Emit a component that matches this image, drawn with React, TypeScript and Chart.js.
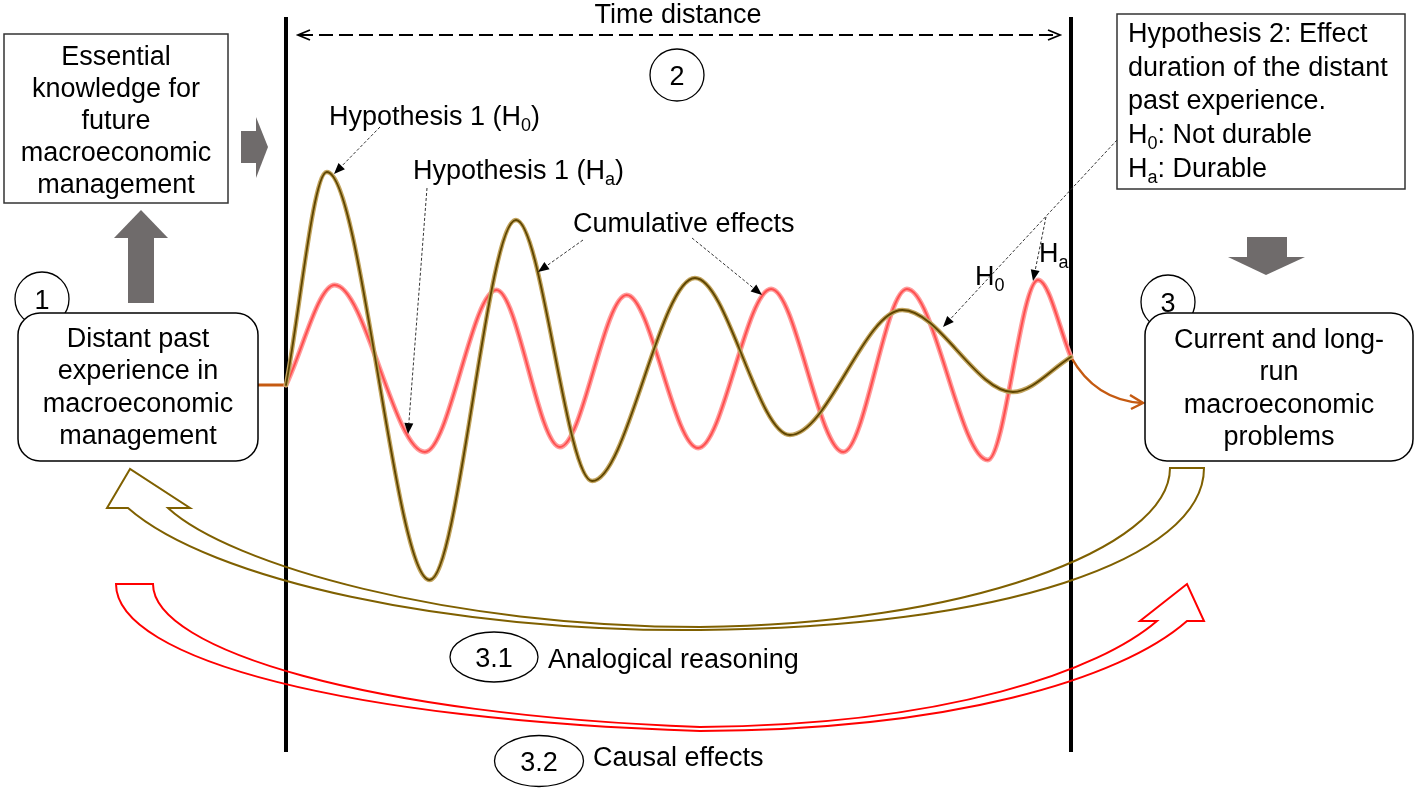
import React, { useEffect, useRef } from "react";
import { Chart, registerables } from "chart.js";

Chart.register(...registerables);

const W = 1418;
const H = 791;

// Time runs from 0 (distant past, left bar) to 100 (present, right bar)
const h0Time = [0, 5.2, 18.3, 29.3, 39.0, 52.1, 64.2, 78.5, 92.6, 100];
const h0Effect = [0, 106.5, -97.5, 82.5, -48, 53.5, -25, 37.5, -3.5, 14];
const haTime = [0, 6.2, 17.7, 26.8, 34.9, 43.4, 52.5, 61.8, 71.0, 79.1, 89.4, 95.8, 100];
const haEffect = [0, 50, -33.5, 47.5, -31, 45, -31.5, 48, -33.5, 48, -37.5, 52.5, 14];
const barTimes = [0, 100];

const X_MIN = -36.433;
const X_MAX = 144.204;
const Y_MIN = -203;
const Y_MAX = 192.5;

const FS = 27;
const FONT = '"Liberation Sans", Arial, Helvetica, sans-serif';
const f = (s: number) => `${s}px ${FONT}`;

type Part = { t: string; sub?: boolean };

function rich(ctx: CanvasRenderingContext2D, x: number, y: number, parts: Part[], align: "left" | "center", size = FS) {
  const subSize = Math.round(size * 0.68);
  let total = 0;
  const widths = parts.map((p) => {
    ctx.font = f(p.sub ? subSize : size);
    const w = ctx.measureText(p.t).width;
    total += w;
    return w;
  });
  let cx = align === "center" ? x - total / 2 : x;
  ctx.textAlign = "left";
  ctx.textBaseline = "alphabetic";
  parts.forEach((p, i) => {
    ctx.font = f(p.sub ? subSize : size);
    ctx.fillText(p.t, cx, p.sub ? y + 6 : y);
    cx += widths[i];
  });
}

function lines(ctx: CanvasRenderingContext2D, x: number, y0: number, dy: number, arr: string[]) {
  ctx.font = f(FS);
  ctx.textAlign = "center";
  ctx.textBaseline = "alphabetic";
  ctx.fillStyle = "#000";
  arr.forEach((s, i) => ctx.fillText(s, x, y0 + dy * i));
}

function roundRect(ctx: CanvasRenderingContext2D, x: number, y: number, w: number, h: number, r: number) {
  ctx.beginPath();
  ctx.moveTo(x + r, y);
  ctx.arcTo(x + w, y, x + w, y + h, r);
  ctx.arcTo(x + w, y + h, x, y + h, r);
  ctx.arcTo(x, y + h, x, y, r);
  ctx.arcTo(x, y, x + w, y, r);
  ctx.closePath();
}

function dottedArrow(ctx: CanvasRenderingContext2D, x1: number, y1: number, x2: number, y2: number) {
  const a = Math.atan2(y2 - y1, x2 - x1);
  const hl = 11;
  const hw = 4.5;
  const bx = x2 - hl * Math.cos(a);
  const by = y2 - hl * Math.sin(a);
  ctx.save();
  ctx.strokeStyle = "#333";
  ctx.lineWidth = 1;
  ctx.setLineDash([3, 2]);
  ctx.beginPath();
  ctx.moveTo(x1, y1);
  ctx.lineTo(bx, by);
  ctx.stroke();
  ctx.setLineDash([]);
  ctx.fillStyle = "#000";
  ctx.beginPath();
  ctx.moveTo(x2, y2);
  ctx.lineTo(bx - hw * Math.sin(a), by + hw * Math.cos(a));
  ctx.lineTo(bx + hw * Math.sin(a), by - hw * Math.cos(a));
  ctx.closePath();
  ctx.fill();
  ctx.restore();
}

function circle(ctx: CanvasRenderingContext2D, x: number, y: number, rx: number, ry: number, label: string) {
  ctx.beginPath();
  ctx.ellipse(x, y, rx, ry, 0, 0, Math.PI * 2);
  ctx.fillStyle = "#fff";
  ctx.fill();
  ctx.strokeStyle = "#000";
  ctx.lineWidth = 1.3;
  ctx.stroke();
  ctx.fillStyle = "#000";
  ctx.font = f(FS);
  ctx.textAlign = "center";
  ctx.textBaseline = "alphabetic";
  ctx.fillText(label, x, y + 10);
}

function poly(ctx: CanvasRenderingContext2D, pts: number[][], fill: string) {
  ctx.beginPath();
  pts.forEach((p, i) => (i ? ctx.lineTo(p[0], p[1]) : ctx.moveTo(p[0], p[1])));
  ctx.closePath();
  ctx.fillStyle = fill;
  ctx.fill();
}

const diagramPlugin = {
  id: "diagram",
  beforeDatasetsDraw(chart: any) {
    const ctx: CanvasRenderingContext2D = chart.ctx;
    const xs = chart.scales.x;
    ctx.save();
    ctx.strokeStyle = "#000";
    ctx.lineWidth = 4;
    barTimes.forEach((t) => {
      const px = xs.getPixelForValue(t);
      ctx.beginPath();
      ctx.moveTo(px, 17);
      ctx.lineTo(px, 752);
      ctx.stroke();
    });
    // orange connectors
    const y0 = chart.scales.y.getPixelForValue(0);
    const xl = xs.getPixelForValue(0);
    const xr = xs.getPixelForValue(100);
    const yEnd = chart.scales.y.getPixelForValue(h0Effect[h0Effect.length - 1]);
    ctx.strokeStyle = "#c55a11";
    ctx.lineWidth = 3;
    ctx.beginPath();
    ctx.moveTo(258, y0);
    ctx.lineTo(xl, y0);
    ctx.stroke();
    ctx.lineWidth = 2.5;
    ctx.beginPath();
    ctx.moveTo(xr, yEnd);
    ctx.quadraticCurveTo(1095, 400, 1142, 403);
    ctx.stroke();
    ctx.beginPath();
    ctx.moveTo(1130, 395);
    ctx.lineTo(1143, 403);
    ctx.lineTo(1131, 409);
    ctx.stroke();
    ctx.restore();
  },
  afterDatasetsDraw(chart: any) {
    const ctx: CanvasRenderingContext2D = chart.ctx;
    ctx.save();

    // Time distance arrow
    ctx.strokeStyle = "#000";
    ctx.lineWidth = 1.8;
    ctx.setLineDash([14, 6]);
    ctx.beginPath();
    ctx.moveTo(299, 35);
    ctx.lineTo(1058, 35);
    ctx.stroke();
    ctx.setLineDash([]);
    ctx.beginPath();
    ctx.moveTo(310, 30);
    ctx.lineTo(298, 35);
    ctx.lineTo(310, 40);
    ctx.moveTo(1048, 30);
    ctx.lineTo(1060, 35);
    ctx.lineTo(1048, 40);
    ctx.stroke();
    ctx.fillStyle = "#000";
    ctx.font = f(FS);
    ctx.textAlign = "center";
    ctx.fillText("Time distance", 678, 23);

    // numbered circles (behind boxes)
    circle(ctx, 42, 299, 27, 27, "1");
    circle(ctx, 677, 75, 27, 26, "2");
    circle(ctx, 1168, 302, 27, 27, "3");

    // Essential knowledge box
    ctx.fillStyle = "#fff";
    ctx.fillRect(4, 34, 224, 169);
    ctx.strokeStyle = "#333";
    ctx.lineWidth = 1.5;
    ctx.strokeRect(4, 34, 224, 169);
    lines(ctx, 116, 65, 32, ["Essential", "knowledge for", "future", "macroeconomic", "management"]);

    // Box 1
    roundRect(ctx, 18, 313, 240, 148, 22);
    ctx.fillStyle = "#fff";
    ctx.fill();
    ctx.strokeStyle = "#000";
    ctx.lineWidth = 1.5;
    ctx.stroke();
    lines(ctx, 138, 347, 32.3, ["Distant past", "experience in", "macroeconomic", "management"]);

    // Box 3
    roundRect(ctx, 1145, 313, 268, 148, 22);
    ctx.fillStyle = "#fff";
    ctx.fill();
    ctx.stroke();
    lines(ctx, 1279, 348, 32.4, ["Current and long-", "run", "macroeconomic", "problems"]);

    // Hypothesis 2 box
    ctx.fillStyle = "#fff";
    ctx.fillRect(1117, 14, 288, 175);
    ctx.strokeStyle = "#333";
    ctx.lineWidth = 1.5;
    ctx.strokeRect(1117, 14, 288, 175);
    ctx.fillStyle = "#000";
    rich(ctx, 1128, 42, [{ t: "Hypothesis 2: Effect" }], "left");
    rich(ctx, 1128, 75.5, [{ t: "duration of the distant" }], "left");
    rich(ctx, 1128, 109, [{ t: "past experience." }], "left");
    rich(ctx, 1128, 143, [{ t: "H" }, { t: "0", sub: true }, { t: ": Not durable" }], "left");
    rich(ctx, 1128, 176.5, [{ t: "H" }, { t: "a", sub: true }, { t: ": Durable" }], "left");

    // gray block arrows
    const gray = "#6f6b6b";
    poly(ctx, [[128, 237], [154, 237], [154, 303], [128, 303]], gray);
    poly(ctx, [[114, 238], [168, 238], [141, 210]], gray);
    poly(ctx, [[241, 131], [256, 131], [256, 163], [241, 163]], gray);
    poly(ctx, [[256, 117], [268, 147], [256, 178]], gray);
    poly(ctx, [[1247, 237], [1287, 237], [1287, 258], [1247, 258]], gray);
    poly(ctx, [[1228, 257], [1305, 257], [1266, 275]], gray);

    // labels
    ctx.fillStyle = "#000";
    rich(ctx, 329, 125, [{ t: "Hypothesis 1 (H" }, { t: "0", sub: true }, { t: ")" }], "left");
    rich(ctx, 413, 179, [{ t: "Hypothesis 1 (H" }, { t: "a", sub: true }, { t: ")" }], "left");
    rich(ctx, 573, 232, [{ t: "Cumulative effects" }], "left");
    rich(ctx, 975, 285, [{ t: "H" }, { t: "0", sub: true }], "left");
    rich(ctx, 1039, 262, [{ t: "H" }, { t: "a", sub: true }], "left");

    dottedArrow(ctx, 380, 127, 334, 174);
    dottedArrow(ctx, 427, 188, 408, 434);
    dottedArrow(ctx, 583, 240, 538, 272);
    dottedArrow(ctx, 692, 238, 762, 295);
    dottedArrow(ctx, 1117, 140, 943, 327);
    dottedArrow(ctx, 1046, 217, 1033, 281);

    // Olive curved block arrow (analogical reasoning)
    ctx.lineWidth = 2;
    ctx.strokeStyle = "#7f6000";
    ctx.beginPath();
    ctx.moveTo(130, 469);
    ctx.lineTo(107, 508);
    ctx.lineTo(128, 508);
    ctx.bezierCurveTo(210, 580, 450, 632, 700, 630);
    ctx.bezierCurveTo(1000, 628, 1204, 560, 1204, 468);
    ctx.lineTo(1170, 468);
    ctx.bezierCurveTo(1170, 550, 960, 625, 700, 627);
    ctx.bezierCurveTo(450, 627, 230, 565, 168, 508);
    ctx.lineTo(190, 508);
    ctx.closePath();
    ctx.stroke();

    // Red curved block arrow (causal effects)
    ctx.strokeStyle = "#ff0000";
    ctx.beginPath();
    ctx.moveTo(116, 584);
    ctx.bezierCurveTo(116, 660, 350, 720, 700, 731);
    ctx.bezierCurveTo(950, 730, 1120, 680, 1187, 621);
    ctx.lineTo(1204, 621);
    ctx.lineTo(1187, 584);
    ctx.lineTo(1140, 621);
    ctx.lineTo(1157, 621);
    ctx.bezierCurveTo(1100, 670, 950, 725, 700, 727);
    ctx.bezierCurveTo(370, 715, 153, 650, 153, 584);
    ctx.closePath();
    ctx.stroke();

    // ellipses and captions
    circle(ctx, 494, 657, 44, 25, "3.1");
    circle(ctx, 539, 761, 44.5, 25.5, "3.2");
    ctx.fillStyle = "#000";
    rich(ctx, 548, 668, [{ t: "Analogical reasoning" }], "left");
    rich(ctx, 593, 766, [{ t: "Causal effects" }], "left");

    ctx.restore();
  },
};

function pts(xs: number[], ys: number[]) {
  return xs.map((x, i) => ({ x, y: ys[i] }));
}

export default function App() {
  const ref = useRef<HTMLCanvasElement | null>(null);
  useEffect(() => {
    if (!ref.current) return;
    const h0 = pts(h0Time, h0Effect);
    const ha = pts(haTime, haEffect);
    const common = {
      pointRadius: 0,
      fill: false,
      cubicInterpolationMode: "monotone" as const,
      borderCapStyle: "round" as const,
      borderJoinStyle: "round" as const,
    };
    const chart = new Chart(ref.current, {
      type: "line",
      data: {
        datasets: [
          { label: "Hypothesis 1 (H0) core", data: h0, borderColor: "#5e4500", borderWidth: 1.8, ...common },
          { label: "Hypothesis 1 (H0)", data: h0, borderColor: "#c2a45e", borderWidth: 4.5, ...common },
          { label: "Hypothesis 1 (Ha) core", data: ha, borderColor: "#ff4f4f", borderWidth: 2, ...common },
          { label: "Hypothesis 1 (Ha)", data: ha, borderColor: "#ff9c9c", borderWidth: 5, ...common },
        ],
      },
      options: {
        responsive: false,
        animation: false,
        devicePixelRatio: 1,
        layout: { padding: 0 },
        events: [],
        scales: {
          x: { type: "linear", display: false, min: X_MIN, max: X_MAX },
          y: { type: "linear", display: false, min: Y_MIN, max: Y_MAX },
        },
        plugins: {
          legend: { display: false },
          tooltip: { enabled: false },
        },
      },
      plugins: [diagramPlugin],
    });
    return () => chart.destroy();
  }, []);
  return (
    <div style={{ position: "absolute", left: 0, top: 0, width: W, height: H, background: "#fff" }}>
      <canvas ref={ref} width={W} height={H} style={{ display: "block", width: W, height: H }} />
    </div>
  );
}
